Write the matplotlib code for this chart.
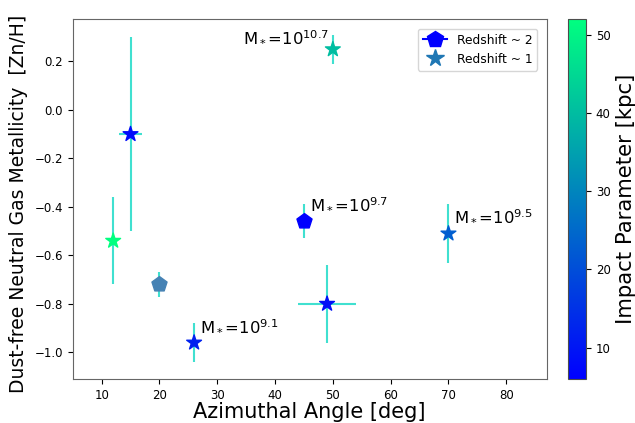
import numpy as np
import matplotlib
matplotlib.use("Agg")
import matplotlib.pyplot as plt
from matplotlib.lines import Line2D

# ---- data ----
# redshift ~ 1 (stars)
az1 = [15, 12, 26, 49, 50, 70]
zn1 = [-0.10, -0.54, -0.96, -0.80, 0.25, -0.51]
zn1_err = [0.40, 0.18, 0.08, 0.16, 0.06, 0.12]
az1_err = [2, 0, 0, 5, 0, 0]
b1 = [8, 52, 12, 9, 40, 23]

# redshift ~ 2 (pentagons)
az2 = [45]
zn2 = [-0.46]
zn2_err = [0.07]
b2 = [6]

# one pentagon drawn in plain steelblue
az3 = [20]
zn3 = [-0.72]
zn3_err = [0.05]

# stellar mass labels
lab_x = [34.4, 46.0, 71.0, 27.1]
lab_y = [0.279, -0.407, -0.458, -0.911]
lab_txt = [r"M$_*$=10$^{10.7}$", r"M$_*$=10$^{9.7}$", r"M$_*$=10$^{9.5}$", r"M$_*$=10$^{9.1}$"]

vmin, vmax = 6, 52

fig = plt.figure(figsize=(6.35, 4.23), dpi=100)
ax = fig.add_axes([0.1145, 0.104, 0.7465, 0.851])
cax = fig.add_axes([0.895, 0.104, 0.0279, 0.851])

ecol = "#40e0d0"
ax.errorbar(az1, zn1, yerr=zn1_err, xerr=az1_err, fmt="none", ecolor=ecol, elinewidth=1.5, zorder=1)
ax.errorbar(az2, zn2, yerr=zn2_err, fmt="none", ecolor=ecol, elinewidth=1.5, zorder=1)
ax.errorbar(az3, zn3, yerr=zn3_err, fmt="none", ecolor=ecol, elinewidth=1.5, zorder=1)

sc = ax.scatter(az1, zn1, c=b1, cmap="winter", vmin=vmin, vmax=vmax, marker="*", s=125, zorder=3)
ax.scatter(az2, zn2, c=b2, cmap="winter", vmin=vmin, vmax=vmax, marker="p", s=130, zorder=3)
ax.scatter(az3, zn3, color="steelblue", marker="p", s=130, zorder=3)

for x, y, t in zip(lab_x, lab_y, lab_txt):
    ax.text(x, y, t, fontsize=11.8, ha="left", va="baseline")

ax.set_xlim(5, 87)
ax.set_ylim(-1.11, 0.375)
ax.set_xlabel("Azimuthal Angle [deg]", fontsize=15, labelpad=0)
ax.set_ylabel("Dust-free Neutral Gas Metallicity  [Zn/H]", fontsize=13.5)
ax.yaxis.set_label_coords(-0.094, 0.486)
ax.tick_params(labelsize=8.5)
for sp in ax.spines.values():
    sp.set_color("0.4")

handles = [
    Line2D([], [], color="blue", marker="p", markersize=12, lw=1.5),
    Line2D([], [], color="C0", marker="*", markersize=13, lw=0),
]
ax.legend(handles, ["Redshift ~ 2", "Redshift ~ 1"], loc="upper right", fontsize=8.8,
          bbox_to_anchor=(0.98, 0.973), borderaxespad=0, labelspacing=0.5)

cb = fig.colorbar(sc, cax=cax)
cb.set_label("Impact Parameter [kpc]", fontsize=15.3)
cb.ax.tick_params(labelsize=8.5)
cb.outline.set_edgecolor("0.3")

fig.savefig("out.png", dpi=100)
